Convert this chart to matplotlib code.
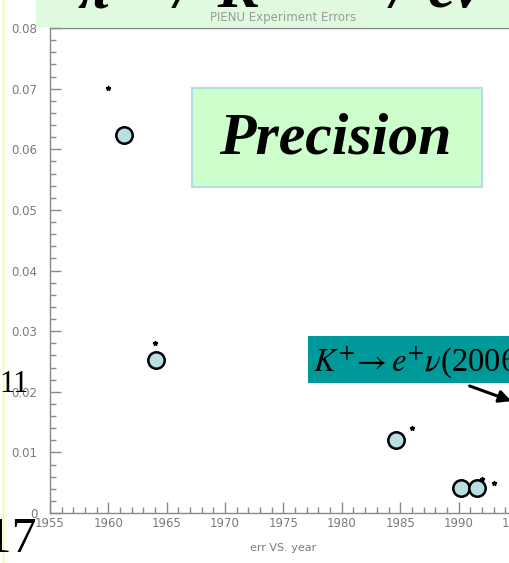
import numpy as np
import matplotlib
matplotlib.use("Agg")
import matplotlib.pyplot as plt
from matplotlib.patches import Rectangle
from matplotlib.lines import Line2D
from matplotlib.ticker import MultipleLocator, FixedLocator, FixedFormatter

# measured errors (circles) and second marker set (stars)
circ_year = [1961.3, 1964.1, 1984.6, 1990.2, 1991.6]
circ_err = [0.0623, 0.0253, 0.0120, 0.0042, 0.0042]
star_year = [1960.0, 1964.0, 1986.0, 1992.0, 1993.0]
star_err = [0.0701, 0.0280, 0.0140, 0.0056, 0.0050]

yticks = [0, 0.01, 0.02, 0.03, 0.04, 0.05, 0.06, 0.07, 0.08]
ylabels = ["0", "0.01", "0.02", "0.03", "0.04", "0.05", "0.06", "0.07", "0.08"]
xticks = [1955, 1960, 1965, 1970, 1975, 1980, 1985, 1990, 1995, 2000, 2005, 2010]

W, H = 510, 563
fig = plt.figure(figsize=(W / 100, H / 100), dpi=100)
fig.patch.set_facecolor("white")

def fx(px):
    return px / W

def fy(py):
    return 1 - py / H

# axes extends past the right border (cropped slide)
ax = fig.add_axes([fx(50), fy(513), 642 / W, 485 / H])
ax.set_xlim(1955, 2010)
ax.set_ylim(0, 0.08)

grey = "#8a8a8a"
for s in ax.spines.values():
    s.set_color(grey)
    s.set_linewidth(1.0)

ax.yaxis.set_major_locator(FixedLocator(yticks))
ax.yaxis.set_major_formatter(FixedFormatter(ylabels))
ax.yaxis.set_minor_locator(MultipleLocator(0.002))
ax.xaxis.set_major_locator(FixedLocator(xticks))
ax.xaxis.set_minor_locator(MultipleLocator(1))
ax.tick_params(which="both", direction="in", color=grey, width=1,
               labelcolor="#7a7a7a", labelsize=8.5, top=False, right=False)
ax.tick_params(which="major", length=8)
ax.tick_params(which="minor", length=4)
ax.tick_params(axis="y", which="major", pad=9)
ax.tick_params(axis="x", which="major", pad=3)

ax.scatter(circ_year, circ_err, s=140, facecolor="#b9dfe3", edgecolor="black",
           linewidth=1.8, zorder=3)
ax.plot(star_year, star_err, ls="none", marker="*", ms=3.5, color="black", zorder=4)

fig.text(fx(283), fy(548), "err VS. year", ha="center", va="center",
         color="#7a7a7a", fontsize=8, zorder=5)

# top green band with title and cut slide heading
fig.patches.append(Rectangle((fx(36), fy(27)), 1, 27 / H, transform=fig.transFigure,
                             facecolor="#e0fae0", edgecolor="none", zorder=1))
fig.text(fx(283), fy(17), "PIENU Experiment Errors", ha="center", va="center",
         color="#9a9a9a", fontsize=8.5, zorder=5)
for xp, s in [(94, "π"), (183, "/"), (238, "K"), (399, "/"), (455, "eν")]:
    fig.text(fx(xp), fy(7), s, ha="center", va="baseline", fontsize=44,
             family="Liberation Serif", style="italic", weight="bold", zorder=5)

# Precision box
fig.patches.append(Rectangle((fx(192), fy(187)), 290 / W, 99 / H, transform=fig.transFigure,
                             facecolor="#ccffcc", edgecolor="#b5dde6", linewidth=1.5, zorder=2))
fig.text(fx(335), fy(140), "Precision", ha="center", va="center", fontsize=43,
         family="Liberation Serif", style="italic", weight="bold", zorder=5)

# teal label box with arrow
fig.patches.append(Rectangle((fx(308), fy(383)), 220 / W, 47 / H, transform=fig.transFigure,
                             facecolor="#009999", edgecolor="none", zorder=2))
plt.rcParams["mathtext.fontset"] = "stix"
fig.text(fx(313), fy(370), r"$K^{+}\!\rightarrow e^{+}\nu$(2006)", ha="left", va="baseline",
         fontsize=23.5, family="Liberation Serif", zorder=5)
fig.add_artist(matplotlib.patches.FancyArrowPatch(
    (fx(467), fy(385)), (fx(514), fy(402)), transform=fig.transFigure,
    arrowstyle="-|>", mutation_scale=18, color="black", linewidth=2.2, zorder=5))

# slide leftovers on the left edge
fig.add_artist(Line2D([fx(3), fx(3)], [0, 1], transform=fig.transFigure,
                      color="#ffff70", linewidth=1))
fig.text(fx(-1), fy(392), "11", ha="left", va="baseline", fontsize=22,
         family="Liberation Serif", zorder=5)
fig.text(fx(37), fy(552), "-17", ha="right", va="baseline", fontsize=36,
         family="Liberation Serif", zorder=5)

fig.savefig("out.png", dpi=100)
